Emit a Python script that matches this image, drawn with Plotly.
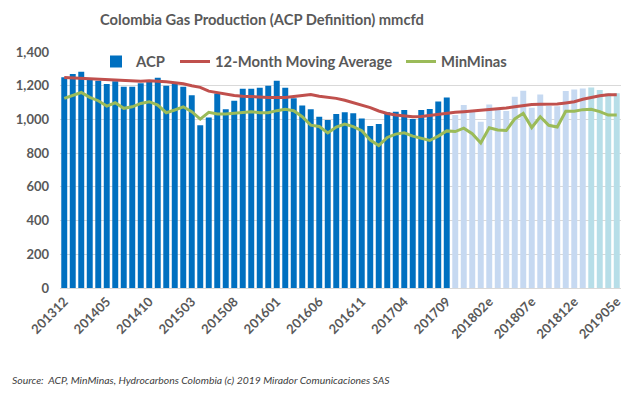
import plotly.graph_objects as go

months = [
    "201312",
    "201401", "201402", "201403", "201404", "201405", "201406", "201407", "201408", "201409", "201410", "201411", "201412",
    "201501", "201502", "201503", "201504", "201505", "201506", "201507", "201508", "201509", "201510", "201511", "201512",
    "201601", "201602", "201603", "201604", "201605", "201606", "201607", "201608", "201609", "201610", "201611", "201612",
    "201701", "201702", "201703", "201704", "201705", "201706", "201707", "201708", "201709", "201710e", "201711e", "201712e",
    "201801e", "201802e", "201803e", "201804e", "201805e", "201806e", "201807e", "201808e", "201809e", "201810e", "201811e", "201812e",
    "201901e", "201902e", "201903e", "201904e", "201905e",
]

acp = [
    1250, 1270, 1283, 1237, 1229, 1210, 1227, 1194, 1194, 1214, 1229, 1247,
    1200, 1214, 1194, 1143, 965, 1012, 1154, 1060, 1111, 1182, 1182, 1188,
    1200, 1229, 1188, 1125, 1083, 1060, 1016, 996, 1032, 1042, 1036, 1006,
    961, 973, 1042, 1046, 1056, 1002, 1056, 1062, 1107, 1130, 1026, 1085,
    1046, 986, 1089, 1066, 1050, 1134, 1170, 1070, 1148, 1080, 1078, 1168,
    1178, 1184, 1190, 1174, 1156, 1156,
]

moving_avg = [
    1248, 1246, 1244, 1240, 1238, 1237, 1236, 1232, 1228, 1226, 1230, 1228,
    1224, 1218, 1212, 1200, 1190, 1168, 1158, 1148, 1142, 1138, 1134, 1131,
    1130, 1130, 1130, 1136, 1144, 1148, 1138, 1132, 1125, 1114, 1100, 1088,
    1070, 1050, 1035, 1026, 1020, 1016, 1018, 1025, 1032, 1038, 1042, 1046,
    1050, 1055, 1058, 1062, 1068, 1075, 1082, 1088, 1090, 1090, 1092, 1098,
    1105, 1120, 1132, 1140, 1146, 1146,
]

minminas = [
    1125, 1144, 1160, 1131, 1111, 1079, 1099, 1066, 1075, 1095, 1105, 1085,
    1040, 1056, 1075, 1046, 1002, 1042, 1032, 1032, 1036, 1042, 1046, 1040,
    1040, 1052, 1060, 1052, 1016, 966, 958, 920, 955, 973, 957, 933,
    878, 845, 893, 913, 921, 901, 888, 875, 901, 932, 928, 948,
    915, 860, 951, 937, 934, 1003, 1036, 952, 1016, 965, 955, 1048,
    1048, 1058, 1060, 1046, 1026, 1026,
]

tick_labels = ["201312", "201405", "201410", "201503", "201508", "201601", "201606",
               "201611", "201704", "201709", "201802e", "201807e", "201812e", "201905e"]

DARK = "#0070C0"
LIGHT = "#C6D9F1"
CYAN = "#B7DEE8"
bar_colors = []
for m in months:
    if not m.endswith("e"):
        bar_colors.append(DARK)
    elif m >= "201902":
        bar_colors.append(CYAN)
    else:
        bar_colors.append(LIGHT)

FONT = "Lato"
GRAY = "#595959"

fig = go.Figure()
fig.add_trace(go.Bar(x=months, y=acp, name="ACP", legend="legend",
                     marker=dict(color=bar_colors, line=dict(width=0))))
fig.add_trace(go.Scatter(x=months, y=moving_avg, name="12-Month Moving Average", mode="lines", legend="legend2",
                         line=dict(color="#C0504D", width=3)))
fig.add_trace(go.Scatter(x=months, y=minminas, name="MinMinas", mode="lines", legend="legend3",
                         line=dict(color="#9BBB59", width=3)))

LEG_Y = (288 - 62) / 236
leg_common = dict(orientation="h", y=LEG_Y, xanchor="left", yanchor="middle",
                  bgcolor="rgba(255,255,255,0)",
                  font=dict(family=FONT, size=14.8, color=GRAY, weight="bold"))

fig.update_layout(
    width=640, height=399,
    margin=dict(l=60, r=19, t=52, b=111),
    paper_bgcolor="white", plot_bgcolor="white",
    bargap=0.3,
    font=dict(family=FONT, color=GRAY, size=13),
    title=dict(text="<b>Colombia Gas Production (ACP Definition) mmcfd</b>",
               x=262 / 640, xanchor="center", y=1 - 20 / 399, yanchor="middle",
               font=dict(family=FONT, size=14.7, color=GRAY)),
    showlegend=True,
    legend=dict(x=(96 - 60) / 561, **leg_common),
    legend2=dict(x=(175 - 60) / 561, **leg_common),
    legend3=dict(x=(401 - 60) / 561, **leg_common),
    xaxis=dict(type="category", tickmode="array", tickvals=tick_labels, ticktext=tick_labels,
               tickangle=-45, tickfont=dict(size=13, color=GRAY, weight="bold"), showgrid=False, automargin=False,
               showline=True, linecolor="#D9D9D9", ticks="", range=[-0.5, len(months) - 0.5]),
    yaxis=dict(range=[0, 1400], tickvals=[0, 200, 400, 600, 800, 1000, 1200, 1400],
               ticktext=["0", "200", "400", "600", "800", "1,000", "1,200", "1,400"],
               showgrid=True, gridcolor="#D9D9D9", gridwidth=1, zeroline=False, automargin=False,
               tickfont=dict(size=13, color=GRAY, weight="bold"), ticklabelstandoff=10),
)
fig.add_annotation(text="<i>Source:  ACP, MinMinas, Hydrocarbons Colombia (c) 2019 Mirador Comunicaciones SAS</i>",
                   xref="paper", yref="paper", x=(10 - 60) / 561, y=(288 - 380) / 236,
                   xanchor="left", yanchor="middle", showarrow=False,
                   font=dict(family=FONT, size=10.4, color="#404040"))

fig.write_html("out.html", config={"displayModeBar": False},
               post_script="document.body.style.margin='0';")
